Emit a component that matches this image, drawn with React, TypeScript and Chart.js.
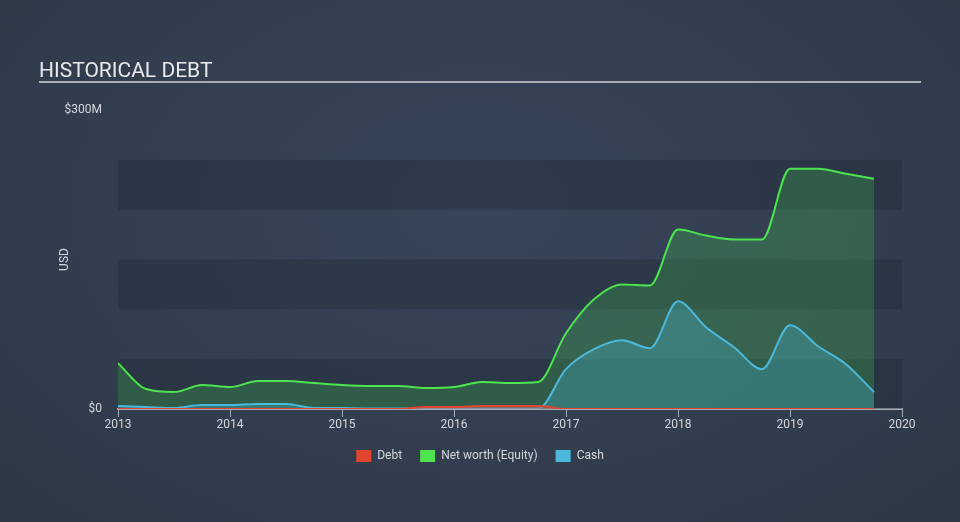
import React, { useEffect, useRef } from "react";
import { Chart, registerables } from "chart.js";

Chart.register(...registerables);

const dates = [
  2013.0, 2013.25, 2013.5, 2013.75, 2014.0, 2014.25, 2014.5, 2014.75,
  2015.0, 2015.25, 2015.5, 2015.75, 2016.0, 2016.25, 2016.5, 2016.75,
  2017.0, 2017.25, 2017.5, 2017.75, 2018.0, 2018.25, 2018.5, 2018.75,
  2019.0, 2019.25, 2019.5, 2019.75,
];
const debt = [
  0, 0, 0, 0, 0, 0, 0, 0,
  0, 0, 0, 2, 2, 3, 3, 3,
  0, 0, 0, 0, 0, 0, 0, 0,
  0, 0, 0, 0,
];
const netWorth = [
  46, 20, 17, 24, 22, 28, 28, 26,
  24, 23, 23, 21, 22, 27, 26, 27,
  76, 110, 125, 124, 180, 174, 170, 170,
  241, 241, 236, 231,
];
const cash = [
  3, 2, 1, 4, 4, 5, 5, 1,
  1, 0.5, 0.5, 0.5, 0.5, 0.5, 0.5, 0.5,
  40, 60, 69, 61, 108, 82, 62, 40,
  84, 63, 45, 17,
];
const yearTicks = [2013, 2014, 2015, 2016, 2017, 2018, 2019, 2020];
const yTicks = [0, 300];
const bandEdges = [0, 50, 100, 150, 200, 250];

const FONT = "Roboto, 'Noto Sans', sans-serif";

const pts = (vals: number[]) => dates.map((d, i) => ({ x: d, y: vals[i] }));

const decorPlugin = {
  id: "decor",
  beforeDatasetsDraw(chart: any) {
    const { ctx, chartArea, scales } = chart;
    const y = scales.y;
    ctx.save();
    for (let i = 0; i < bandEdges.length - 1; i++) {
      if (i % 2 === 0) {
        const top = y.getPixelForValue(bandEdges[i + 1]);
        const bot = y.getPixelForValue(bandEdges[i]);
        ctx.fillStyle = "rgba(30,40,52,0.35)";
        ctx.fillRect(chartArea.left, top, chartArea.right - chartArea.left, bot - top);
      }
    }
    ctx.restore();
  },
  afterDraw(chart: any) {
    const { ctx } = chart;
    ctx.save();
    ctx.fillStyle = "#e8eaed";
    ctx.font = `21px ${FONT}`;
    ctx.textBaseline = "alphabetic";
    ctx.textAlign = "left";
    ctx.fillText("HISTORICAL DEBT", 39, 77);
    ctx.fillStyle = "#a9aeb5";
    ctx.fillRect(39, 81, 882, 2);
    ctx.restore();
  },
};

export default function App() {
  const ref = useRef<HTMLCanvasElement>(null);
  useEffect(() => {
    if (!ref.current) return;
    const chart = new Chart(ref.current, {
      type: "line",
      data: {
        datasets: [
          {
            label: "Debt",
            data: pts(debt),
            borderColor: "#e0452f",
            backgroundColor: "rgba(224,60,45,0.35)",
            fill: "origin",
            borderWidth: 2,
            pointRadius: 0,
            cubicInterpolationMode: "monotone",
            order: 0,
          },
          {
            label: "Net worth (Equity)",
            data: pts(netWorth),
            borderColor: "#4de44f",
            backgroundColor: "rgba(74,226,80,0.22)",
            fill: "origin",
            borderWidth: 2,
            pointRadius: 0,
            cubicInterpolationMode: "monotone",
            order: 2,
          },
          {
            label: "Cash",
            data: pts(cash),
            borderColor: "#4bb9dc",
            backgroundColor: "rgba(72,184,216,0.3)",
            fill: "origin",
            borderWidth: 2,
            pointRadius: 0,
            cubicInterpolationMode: "monotone",
            order: 1,
          },
        ],
      },
      options: {
        animation: false,
        responsive: false,
        maintainAspectRatio: false,
        layout: { padding: { left: 0, right: 0, top: 110, bottom: 50 } },
        scales: {
          x: {
            type: "linear",
            min: 2013,
            max: 2020,
            afterBuildTicks: (s: any) => {
              s.ticks = yearTicks.map((v) => ({ value: v }));
            },
            afterFit: (s: any) => {
              s.height = 23;
            },
            ticks: {
              color: "#d3d7dd",
              font: { family: FONT, size: 12 },
              padding: 1,
              maxRotation: 0,
              callback: (v: any) => String(v),
            },
            grid: {
              display: true,
              drawOnChartArea: false,
              drawTicks: true,
              tickLength: 8,
              color: "#a3abb7",
              lineWidth: 1,
            },
            border: { display: true, color: "#a3abb7", width: 2 },
          },
          y: {
            min: 0,
            max: 300,
            afterBuildTicks: (s: any) => {
              s.ticks = yTicks.map((v) => ({ value: v }));
            },
            afterFit: (s: any) => {
              s.width = 118;
            },
            ticks: {
              color: "#d3d7dd",
              font: { family: FONT, size: 12 },
              padding: 16,
              callback: (v: any) => (v === 0 ? "$0" : `$${v}M`),
            },
            grid: { display: false, drawTicks: false },
            border: { display: false },
            title: {
              display: true,
              text: "USD",
              color: "#d3d7dd",
              font: { family: FONT, size: 12 },
              padding: { top: 58, bottom: 0 },
            },
          },
          yRight: {
            position: "right",
            min: 0,
            max: 300,
            afterFit: (s: any) => {
              s.width = 58;
            },
            ticks: { display: false },
            grid: { display: false, drawTicks: false },
            border: { display: false },
          },
        },
        plugins: {
          legend: {
            position: "bottom",
            labels: {
              color: "#d3d7dd",
              font: { family: FONT, size: 12 },
              boxWidth: 15,
              boxHeight: 12,
              padding: 18,
              sort: (a: any, b: any) => a.datasetIndex - b.datasetIndex,
              generateLabels: (chart: any) =>
                chart.data.datasets.map((ds: any, i: number) => ({
                  text: ds.label,
                  fillStyle: ds.borderColor,
                  strokeStyle: ds.borderColor,
                  lineWidth: 0,
                  fontColor: "#d3d7dd",
                  hidden: false,
                  datasetIndex: i,
                })),
            },
          },
          tooltip: { enabled: false },
        },
      },
      plugins: [decorPlugin],
    } as any);
    return () => chart.destroy();
  }, []);
  return (
    <div
      style={{
        position: "fixed",
        left: 0,
        top: 0,
        width: 960,
        height: 522,
        background: "radial-gradient(ellipse at 50% 40%, #37455a 0%, #323e4e 60%, #2d3846 100%)",
      }}
    >
      <canvas ref={ref} width={960} height={522} style={{ display: "block" }} />
    </div>
  );
}
